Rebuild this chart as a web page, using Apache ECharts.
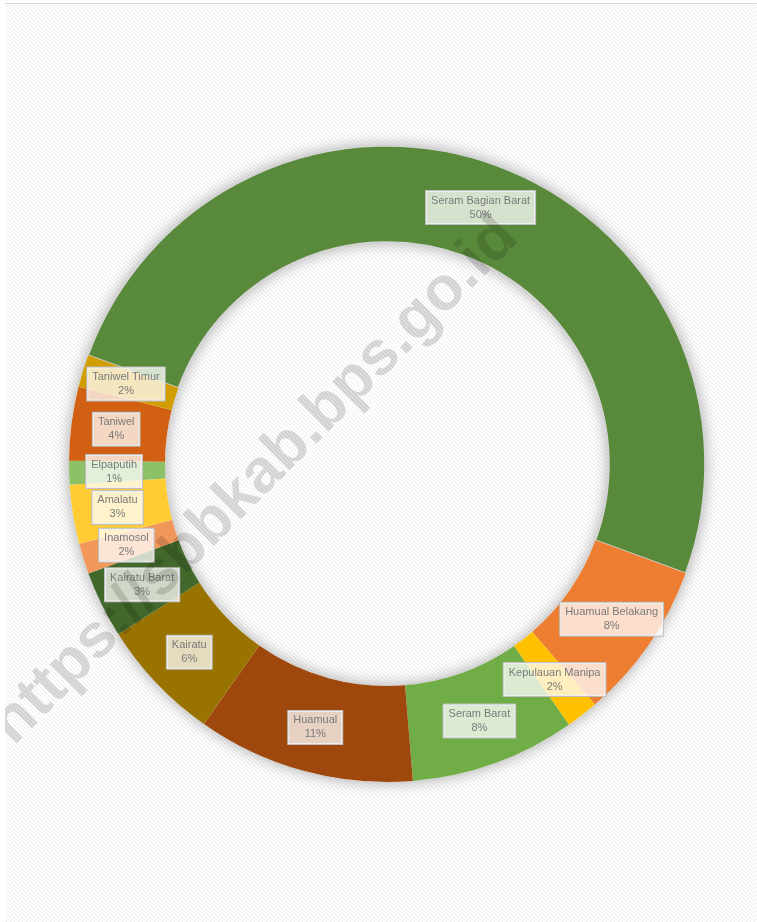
<!DOCTYPE html>
<html>
<head>
<meta charset="utf-8">
<script src="https://cdn.jsdelivr.net/npm/echarts@6/dist/echarts.min.js"></script>
<style>
  html, body { margin: 0; padding: 0; background: #ffffff; }
  #wrap { position: absolute; left: 5px; top: 3px; width: 752px; height: 918px; border-top: 1px solid #d9d9d9; }
  #chart { width: 752px; height: 918px; }
</style>
</head>
<body>
<div id="wrap"><div id="chart"></div></div>
<script>
// Data (share by district, %)
const categories = ['Seram Bagian Barat', 'Huamual Belakang', 'Kepulauan Manipa', 'Seram Barat', 'Huamual', 'Kairatu', 'Kairatu Barat', 'Inamosol', 'Amalatu', 'Elpaputih', 'Taniwel', 'Taniwel Timur'];
const values = [50.05, 8.08, 1.65, 8.4, 11.07, 6.25, 3.4, 1.55, 3.0, 1.2, 3.75, 1.65];
const colors = ['#598a3b', '#ed7d31', '#ffc000', '#70ad47', '#9e480e', '#997300', '#43682b', '#f1975a', '#ffcd33', '#8cc168', '#d26012', '#d19d00'];
const watermark = 'https://sbbkab.bps.go.id';

// hatched background
const pc = document.createElement('canvas');
pc.width = 4; pc.height = 4;
const pctx = pc.getContext('2d');
pctx.fillStyle = '#ffffff'; pctx.fillRect(0, 0, 4, 4);
pctx.fillStyle = '#ececec';
for (let i = 0; i < 4; i++) pctx.fillRect(i, i, 1, 1);
document.getElementById('wrap').style.background = 'url(' + pc.toDataURL() + ') repeat';

const chart = echarts.init(document.getElementById('chart'), null, { renderer: 'canvas' });
const data = categories.map((c, i) => ({
  name: c,
  value: values[i],
  itemStyle: i === 0 ? { color: colors[i], borderColor: '#d4d4d4', borderWidth: 1.5 } : { color: colors[i] }
}));

chart.setOption({
  backgroundColor: 'transparent',
  animation: false,
  series: [
    {
      type: 'pie',
      silent: true,
      center: [382, 460],
      radius: [222, 318],
      startAngle: 160,
      label: { show: false },
      labelLine: { show: false },
      itemStyle: { color: '#ffffff', shadowBlur: 16, shadowColor: 'rgba(0,0,0,0.35)' },
      data: [{ value: 1, name: 'shadow' }],
      z: 1
    },
    {
      type: 'pie',
      center: [382, 460],
      radius: [222, 318],
      startAngle: 160,
      clockwise: true,
      avoidLabelOverlap: false,
      minShowLabelAngle: 0,
      labelLayout: { hideOverlap: false },
      emphasis: { disabled: true },
      label: {
        show: true,
        position: 'inside',
        formatter: p => p.name + '\n' + Math.round(p.percent) + '%',
        fontFamily: 'Liberation Sans, Arial, sans-serif',
        fontSize: 11,
        lineHeight: 14,
        color: '#7a7a7a',
        backgroundColor: 'rgba(255,255,255,0.75)',
        borderColor: '#bfbfbf',
        borderWidth: 1,
        padding: [3, 5, 2, 5],
        align: 'center'
      },
      labelLine: { show: false },
      data: data,
      z: 2
    }
  ],
  graphic: [
    {
      type: 'text',
      x: 250,
      y: 477,
      rotation: 45 * Math.PI / 180,
      z: 100,
      silent: true,
      style: {
        text: watermark,
        font: 'bold 62px "Liberation Sans", Arial, sans-serif',
        fill: 'rgba(0,0,0,0.14)',
        textAlign: 'center',
        textVerticalAlign: 'middle'
      }
    }
  ]
});
</script>
</body>
</html>
